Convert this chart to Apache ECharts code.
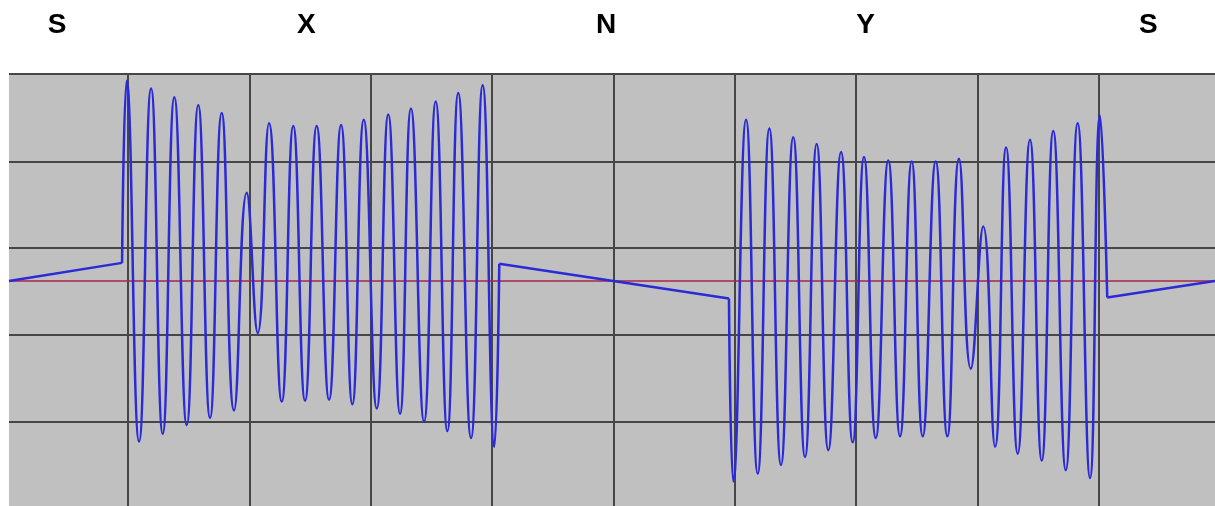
<!DOCTYPE html>
<html>
<head>
<meta charset="utf-8">
<script src="https://cdn.jsdelivr.net/npm/echarts@6/dist/echarts.min.js"></script>
<style>
html,body{margin:0;padding:0;background:#fff;}
#chart{width:1215px;height:506px;}
</style>
</head>
<body>
<div id="chart"></div>
<script>
// Section labels across the top and where they sit on the time axis (ms)
const sectionLabels = ['S', 'X', 'N', 'Y', 'S'];
const sectionTimes = [4.15, 24.7, 49.4, 70.8, 94.1];

// Grid divisions (time in ms, amplitude in V)
const gridTimes = [10, 20, 30, 40, 50, 60, 70, 80, 90];
const gridVolts = [2.386, 1.378, 0.377, -0.623, -1.622];
const baselineVolt = 0;

// Waveform pieces: time (ms) and amplitude (V)
const sTimes = [0.19, 9.51];
const sVolts = [0, 0.21];

const xBurstTimes = [9.51, 9.89, 10.91, 11.90, 12.86, 13.82, 14.84, 15.79, 16.76, 17.72, 18.74,
  19.78, 20.69, 21.62, 22.67, 23.62, 24.59, 25.55, 26.57, 27.56, 28.49, 29.43, 30.50,
  31.45, 32.42, 33.32, 34.40, 35.36, 36.32, 37.22, 38.27, 39.23, 40.19, 40.60];
const xBurstVolts = [0.21, 2.31, -1.85, 2.22, -1.76, 2.12, -1.66, 2.03, -1.58, 1.94, -1.49,
  1.02, -0.60, 1.82, -1.39, 1.79, -1.38, 1.79, -1.37, 1.80, -1.42, 1.86, -1.47,
  1.92, -1.53, 1.99, -1.62, 2.07, -1.73, 2.17, -1.81, 2.26, -1.91, 0.20];

const nTimes = [40.60, 59.53];
const nVolts = [0.20, -0.20];

const yBurstTimes = [59.53, 59.89, 60.94, 61.90, 62.86, 63.82, 64.83, 65.80, 66.76, 67.72, 68.77,
  69.73, 70.66, 71.63, 72.66, 73.63, 74.59, 75.50, 76.57, 77.53, 78.49, 79.46, 80.49,
  81.46, 82.37, 83.33, 84.34, 85.31, 86.26, 87.29, 88.27, 89.29, 90.11, 90.71];
const yBurstVolts = [-0.20, -2.31, 1.86, -2.22, 1.76, -2.12, 1.66, -2.03, 1.58, -1.95, 1.49,
  -1.86, 1.43, -1.81, 1.39, -1.79, 1.38, -1.79, 1.38, -1.79, 1.41, -1.01, 0.63,
  -1.91, 1.54, -1.99, 1.63, -2.07, 1.73, -2.18, 1.82, -2.27, 1.91, -0.19];

const endTimes = [90.71, 99.59];
const endVolts = [-0.19, 0];

const timeMin = 0.19, timeMax = 99.59;
const voltMin = -2.594, voltMax = 2.40;

function pairs(ts, vs) { return ts.map((t, i) => [t, vs[i]]); }

const waveColor = '#2a2ad6';
const waveStyle = { color: waveColor, width: 2.5 };

function waveSeries(name, ts, vs, smooth) {
  return {
    name: name, type: 'line', data: pairs(ts, vs), smooth: smooth,
    showSymbol: false, symbol: 'none', lineStyle: waveStyle, z: 5, silent: true, animation: false
  };
}

const chart = echarts.init(document.getElementById('chart'), null, { renderer: 'canvas' });
chart.setOption({
  animation: false,
  grid: { left: 9, right: 0, top: 73, bottom: 0, show: true, backgroundColor: '#c0c0c0', borderWidth: 0 },
  xAxis: { type: 'value', min: timeMin, max: timeMax, show: false },
  yAxis: { type: 'value', min: voltMin, max: voltMax, show: false },
  series: [
    {
      name: 'grid', type: 'line', data: [], z: 1, silent: true,
      markLine: {
        silent: true, symbol: ['none', 'none'], label: { show: false }, animation: false,
        lineStyle: { color: '#464646', width: 2, type: 'solid' },
        data: gridTimes.map(t => ({ xAxis: t })).concat(gridVolts.map(v => ({ yAxis: v })))
      }
    },
    {
      name: 'baseline', type: 'line', data: [], z: 2, silent: true,
      markLine: {
        silent: true, symbol: ['none', 'none'], label: { show: false }, animation: false,
        lineStyle: { color: '#a8244a', width: 1.5, type: 'solid' },
        data: [{ yAxis: baselineVolt }]
      }
    },
    waveSeries('S', sTimes, sVolts, false),
    waveSeries('X', xBurstTimes, xBurstVolts, 0.5),
    waveSeries('N', nTimes, nVolts, false),
    waveSeries('Y', yBurstTimes, yBurstVolts, 0.5),
    waveSeries('S2', endTimes, endVolts, false)
  ]
});

chart.setOption({
  graphic: sectionLabels.map((txt, i) => ({
    type: 'text',
    x: chart.convertToPixel({ xAxisIndex: 0 }, sectionTimes[i]),
    y: 25,
    style: {
      text: txt, fill: '#000', font: 'bold 28px "Liberation Sans", Arial, sans-serif',
      textAlign: 'center', textVerticalAlign: 'middle'
    }
  }))
});
</script>
</body>
</html>
